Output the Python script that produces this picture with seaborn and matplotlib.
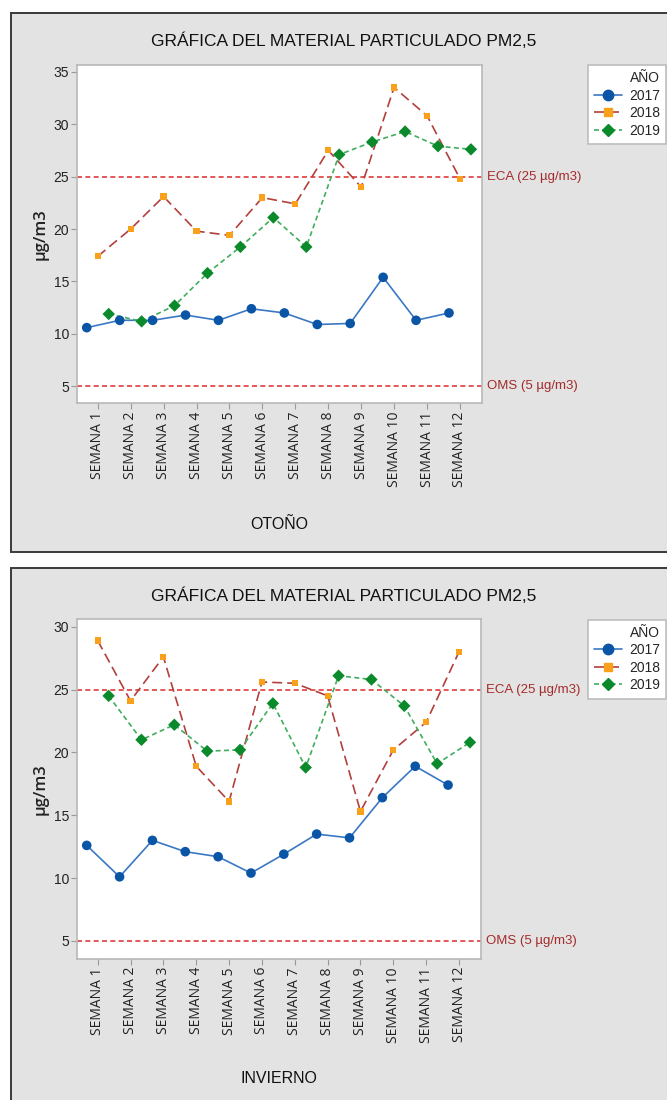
import matplotlib.pyplot as plt
import seaborn as sns
import pandas as pd
from matplotlib.lines import Line2D
from matplotlib.patches import Rectangle

# Weeks (x categories) and years (series)
semanas = ["SEMANA 1", "SEMANA 2", "SEMANA 3", "SEMANA 4", "SEMANA 5", "SEMANA 6",
           "SEMANA 7", "SEMANA 8", "SEMANA 9", "SEMANA 10", "SEMANA 11", "SEMANA 12"]
anios = ["2017", "2018", "2019"]

# OTOÑO values (µg/m3)
otono_2017 = [10.6, 11.3, 11.3, 11.8, 11.3, 12.4, 12.0, 10.9, 11.0, 15.4, 11.3, 12.0]
otono_2018 = [17.4, 20.0, 23.1, 19.8, 19.4, 23.0, 22.4, 27.5, 24.0, 33.5, 30.8, 24.8]
otono_2019 = [11.9, 11.2, 12.7, 15.8, 18.3, 21.1, 18.3, 27.1, 28.3, 29.3, 27.9, 27.6]

# INVIERNO values (µg/m3)
invierno_2017 = [12.6, 10.1, 13.0, 12.1, 11.7, 10.4, 11.9, 13.5, 13.2, 16.4, 18.9, 17.4]
invierno_2018 = [28.9, 24.1, 27.6, 18.9, 16.1, 25.6, 25.5, 24.5, 15.3, 20.2, 22.4, 28.0]
invierno_2019 = [24.5, 21.0, 22.2, 20.1, 20.2, 23.9, 18.8, 26.1, 25.8, 23.7, 19.1, 20.8]

# Reference limits
limite_eca = 25
limite_oms = 5

sns.set_style("ticks")
plt.rcParams["font.family"] = ["Liberation Sans", "DejaVu Sans"]

LINE_COLORS = {"2017": "#3b78c4", "2018": "#b2403c", "2019": "#3fae5c"}
MARK_COLORS = {"2017": "#0a55a6", "2018": "#f9a11b", "2019": "#0b8a2b"}
MARKERS = {"2017": "o", "2018": "s", "2019": "D"}
SIZES = {"2017": 48, "2018": 20, "2019": 40}
DASHES = {"2017": "", "2018": (6, 3), "2019": (3, 2)}
OFFSETS = {"2017": -1 / 3, "2018": 0.0, "2019": 1 / 3}
REF_COLOR = "#e03a3a"
REF_TEXT = "#a52b2b"


def build_df(v17, v18, v19):
    rows = []
    for anio, vals in zip(anios, [v17, v18, v19]):
        for i, v in enumerate(vals):
            rows.append({"semana": i + 1, "año": anio, "valor": v,
                         "pos": i + 1 + OFFSETS[anio]})
    return pd.DataFrame(rows)


def draw_panel(fig, rect, df, ylim, yticks, season, title_y, legend_top, xlabel_y):
    ax = fig.add_axes(rect)
    ax.set_facecolor("white")

    # Lines
    sns.lineplot(data=df, x="pos", y="valor", hue="año", style="año",
                 palette=LINE_COLORS, dashes=DASHES, estimator=None, sort=False,
                 linewidth=1.2, legend=False, ax=ax, zorder=3)
    # Markers
    sns.scatterplot(data=df, x="pos", y="valor", hue="año", style="año", size="año",
                    palette=MARK_COLORS, markers=MARKERS, sizes=SIZES,
                    linewidth=0, legend=False, ax=ax, zorder=4)

    # Reference lines
    for val, txt in [(limite_eca, "ECA (25 µg/m3)"), (limite_oms, "OMS (5 µg/m3)")]:
        ax.axhline(val, color=REF_COLOR, linestyle=(0, (3, 2)), linewidth=1.2, zorder=2)
        ax.text(1.013, val, txt, transform=ax.get_yaxis_transform(),
                color=REF_TEXT, fontsize=9.5, va="center", ha="left")

    # X axis
    ax.set_xlim(0.38, 12.66)
    ax.set_xticks(range(1, 13))
    ax.set_xticklabels(semanas, rotation=90, fontsize=10, family="Open Sans",
                       color="#222222")
    ax.set_xlabel(season, fontsize=11.5, color="#111111")
    ax.xaxis.set_label_coords(0.5, xlabel_y)

    # Y axis
    ax.set_ylim(*ylim)
    ax.set_yticks(yticks)
    ax.set_yticklabels([str(t) for t in yticks], fontsize=10, color="#222222")
    ax.set_ylabel("µg/m3", fontsize=12, family="Open Sans", fontweight="semibold",
                  color="#222222")
    ax.yaxis.set_label_coords(-0.072, 0.5)

    for sp in ax.spines.values():
        sp.set_color("#b8b8b8")
        sp.set_linewidth(1.2)
    ax.tick_params(direction="out", length=4, width=0.8, color="#9a9a9a", pad=2)

    # Title
    fig.text(0.515, title_y, "GRÁFICA DEL MATERIAL PARTICULADO PM2,5",
             ha="center", va="center", fontsize=12.5, color="#111111")

    # Legend
    handles = [
        Line2D([0], [0], color=LINE_COLORS[a], linewidth=1.2,
               dashes=DASHES[a] if DASHES[a] else (None, None),
               linestyle="-" if not DASHES[a] else "--",
               marker=MARKERS[a], markerfacecolor=MARK_COLORS[a],
               markeredgecolor=MARK_COLORS[a],
               markersize={"2017": 7.5, "2018": 5.5, "2019": 6}[a])
        for a in anios
    ]
    leg = ax.legend(handles, anios, title="AÑO", loc="upper left",
                    bbox_to_anchor=(0.8816, legend_top), bbox_transform=fig.transFigure,
                    borderaxespad=0, fontsize=10, title_fontsize=10,
                    alignment="right", frameon=True, fancybox=False, framealpha=1,
                    handlelength=2.0, labelspacing=0.25, borderpad=0.45,
                    handletextpad=0.5)
    leg.get_frame().set_edgecolor("#bdbdbd")
    leg.get_frame().set_linewidth(1.2)
    return ax


fig = plt.figure(figsize=(6.67, 11.0), dpi=100)
fig.patch.set_facecolor("white")

# Grey panel frames
fig.add_artist(Rectangle((0.0165, 0.4982), 1.1, 0.49, transform=fig.transFigure,
                         facecolor="#e3e3e3", edgecolor="#3a3a3a", linewidth=1.4, zorder=0))
fig.add_artist(Rectangle((0.0165, -0.05), 1.1, 0.5336, transform=fig.transFigure,
                         facecolor="#e3e3e3", edgecolor="#3a3a3a", linewidth=1.4, zorder=0))

df_otono = build_df(otono_2017, otono_2018, otono_2019)
df_invierno = build_df(invierno_2017, invierno_2018, invierno_2019)

draw_panel(fig, [0.1159, 0.6333, 0.6063, 0.3076], df_otono, (3.38, 35.64),
           [5, 10, 15, 20, 25, 30, 35], "OTOÑO", 0.9627, 0.9409, -0.335)
draw_panel(fig, [0.1159, 0.1284, 0.6048, 0.3086], df_invierno, (3.58, 30.59),
           [5, 10, 15, 20, 25, 30], "INVIERNO", 0.4582, 0.4367, -0.330)

fig.savefig("out.png", dpi=100)
